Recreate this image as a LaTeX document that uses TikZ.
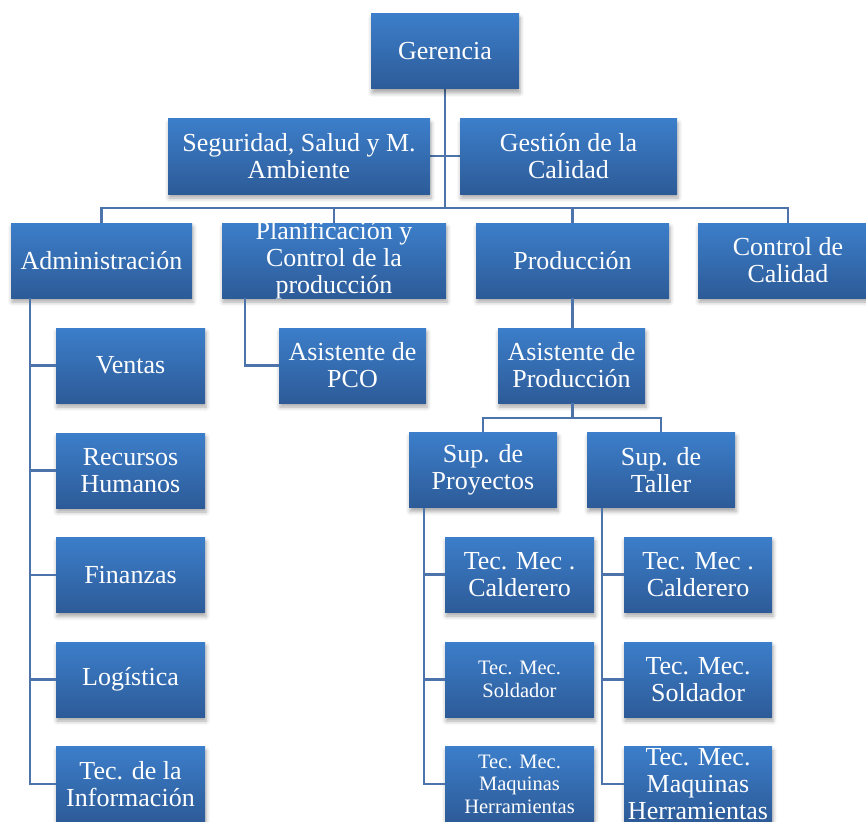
\documentclass[tikz,border=0pt]{standalone}
\usepackage{fontspec}
\setmainfont{Liberation Serif}
\usetikzlibrary{shadows.blur}
\definecolor{boxtop}{RGB}{60,126,202}
\definecolor{boxbot}{RGB}{45,91,152}
\definecolor{linec}{RGB}{76,116,170}
\tikzset{
  boxs/.style={rectangle, inner sep=0pt, top color=boxtop, bottom color=boxbot, draw=none,
    blur shadow={shadow xshift=1pt, shadow yshift=-4pt, shadow blur radius=4pt, shadow opacity=35}},
  txt/.style={align=center, text=white, inner sep=0pt, font=\fontsize{26}{27}\selectfont},
  smalltxt/.style={align=center, text=white, inner sep=0pt, font=\fontsize{20.5}{22.5}\selectfont},
  conn/.style={draw=linec, line width=2.2pt}
}
\newcommand\obox[7][txt]{%
  \node[boxs, minimum width=#5pt, minimum height=#6pt] (#2) at (#3,#4) {};
  \node[#1] (#2-t) at (#2.center) {#7};}
\begin{document}
\begin{tikzpicture}[x=1pt,y=-1pt]
\useasboundingbox (0,0) rectangle (866,821);
% coordinates for buses
\coordinate (bus1) at (445,208);
\coordinate (bus2) at (572,418);
\coordinate (ax) at (30,300);
\coordinate (px) at (245,300);
\coordinate (sx) at (424,510);
\coordinate (tx) at (602,510);
% connectors first (behind boxes)
\begin{scope}[conn]
\path[conn] (445,89) coordinate (gs) -- (bus1);
\path[conn] (101.5,260) coordinate (admc) |- (bus1);
\path[conn] (788,260) |- (bus1);
\path[conn] (334,260) |- (bus1);
\path[conn] (572.5,260) |- (bus1);
\path[conn] (299,156) -- (568.5,156);
\end{scope}
% boxes
\obox{ger}{445}{51.5}{148}{75}{Gerencia}
\obox{seg}{299}{156.5}{262}{75}{Seguridad, Salud y M.\\Ambiente}
\obox{ges}{568.5}{156.5}{217}{75}{Gestión de la\\Calidad}
\obox{adm}{101.5}{260.5}{181}{75}{Administración}
\obox{pla}{334}{260.5}{224}{75}{Planificación y\\Control de la\\producción}
\obox{pro}{572.5}{260.5}{193}{75}{Producción}
\obox{cca}{788}{260.5}{180}{75}{Control de\\Calidad}
\obox{ven}{130.5}{365.5}{149}{75}{Ventas}
\obox{rrh}{130.5}{470.5}{149}{75}{Recursos\\Humanos}
\obox{fin}{130.5}{575}{149}{75}{Finanzas}
\obox{log}{130.5}{679.5}{149}{75}{Logística}
\obox{tin}{130.5}{784}{149}{75}{Tec. de la\\Información}
\obox{apc}{352.5}{365.5}{147}{75}{Asistente de\\PCO}
\obox{apr}{571.5}{365.5}{147}{75}{Asistente de\\Producción}
\obox{spr}{483}{470}{148}{75}{Sup. de\\Proyectos}
\obox{sta}{661}{470}{148}{75}{Sup. de\\Taller}
\obox{pc}{519.5}{574.5}{149}{75}{Tec. Mec .\\Calderero}
\obox[smalltxt]{ps}{519.5}{679.5}{149}{75}{Tec. Mec.\\Soldador}
\obox[smalltxt]{pm}{519.5}{784}{149}{75}{Tec. Mec.\\Maquinas\\Herramientas}
\obox{tc}{698}{574.5}{148}{75}{Tec. Mec .\\Calderero}
\obox{ts}{698}{679.5}{148}{75}{Tec. Mec.\\Soldador}
\obox{tm}{698}{784}{148}{75}{Tec. Mec.\\Maquinas\\Herramientas}
% remaining connectors (drawn behind via background is not needed: they end at box edges)
\draw[conn] (adm.south -| ax) |- (ven.west);
\draw[conn] (adm.south -| ax) |- (rrh.west);
\draw[conn] (adm.south -| ax) |- (fin.west);
\draw[conn] (adm.south -| ax) |- (log.west);
\draw[conn] (adm.south -| ax) |- (tin.west);
\draw[conn] (pla.south -| px) |- (apc.west);
\draw[conn] (pro.south) -- (pro.south |- apr.north);
\draw[conn] (apr.south -| pro.south) |- (bus2);
\draw[conn] (spr.north) |- (bus2);
\draw[conn] (sta.north) |- (bus2);
\draw[conn] (spr.south -| sx) |- (pc.west);
\draw[conn] (spr.south -| sx) |- (ps.west);
\draw[conn] (spr.south -| sx) |- (pm.west);
\draw[conn] (sta.south -| tx) |- (tc.west);
\draw[conn] (sta.south -| tx) |- (ts.west);
\draw[conn] (sta.south -| tx) |- (tm.west);
\end{tikzpicture}
\end{document}
